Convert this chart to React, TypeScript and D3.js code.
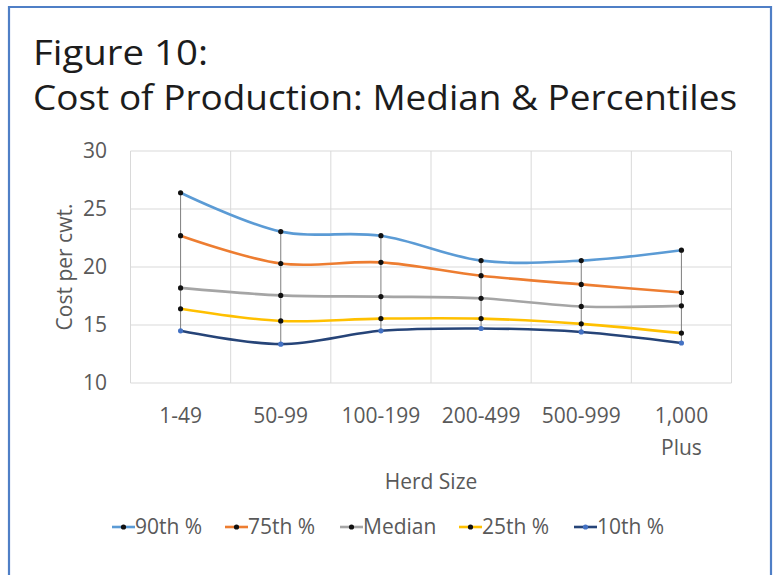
import React from "react";
import * as d3 from "d3";

const categories = ["1-49", "50-99", "100-199", "200-499", "500-999", "1,000 Plus"];
const seriesNames = ["90th %", "75th %", "Median", "25th %", "10th %"];
const p90 = [26.4, 23.05, 22.7, 20.55, 20.55, 21.45];
const p75 = [22.7, 20.3, 20.4, 19.25, 18.5, 17.8];
const median = [18.2, 17.55, 17.45, 17.3, 16.6, 16.65];
const p25 = [16.4, 15.35, 15.55, 15.55, 15.1, 14.3];
const p10 = [14.5, 13.35, 14.5, 14.7, 14.4, 13.45];
const yTicks = [10, 15, 20, 25, 30];

const seriesValues = [p90, p75, median, p25, p10];
const lineColors = ["#5B9BD5", "#ED7D31", "#A5A5A5", "#FFC000", "#264478"];
const markerColors = ["#111", "#111", "#111", "#111", "#4472C4"];

const W = 775;
const H = 575;
const FONT = "'Open Sans', 'Noto Sans', sans-serif";

export default function App() {
  const plotL = 130.5, plotR = 731.5, plotT = 151, plotB = 383;
  const x = d3.scaleBand<string>().domain(categories).range([plotL, plotR]).paddingInner(0).paddingOuter(0);
  const y = d3.scaleLinear().domain([10, 30]).range([plotB, plotT]);
  const cx = (c: string) => (x(c) as number) + x.bandwidth() / 2;
  const line = d3
    .line<number>()
    .x((_, i) => cx(categories[i]))
    .y((v) => y(v))
    .curve(d3.curveCatmullRom.alpha(0.5));

  const boundaries = categories.map((c) => x(c) as number).concat([plotR]);

  const legendX = [112, 225, 340, 459, 574];

  return (
    <div style={{ position: "absolute", left: 0, top: 0 }}>
      <svg width={W} height={H} style={{ display: "block", fontFamily: FONT }}>
        <rect x={0} y={0} width={W} height={H} fill="#fff" />
        {/* frame */}
        <path d={`M9,${H + 5} V7 H771 V${H + 5}`} fill="none" stroke="#4F7FC6" strokeWidth={2.2} />

        {/* title */}
        <text x={33} y={65} fontSize={35} fill="#1c1c1c" textLength={175} lengthAdjust="spacingAndGlyphs">
          Figure 10:
        </text>
        <text x={33} y={110} fontSize={35} fill="#1c1c1c" textLength={704} lengthAdjust="spacingAndGlyphs">
          Cost of Production: Median &amp; Percentiles
        </text>

        {/* gridlines */}
        {yTicks.map((t) => (
          <line key={"h" + t} x1={plotL} x2={plotR} y1={y(t)} y2={y(t)} stroke="#D9D9D9" strokeWidth={1} />
        ))}
        {boundaries.map((b, i) => (
          <line key={"v" + i} x1={b} x2={b} y1={plotT} y2={plotB} stroke="#D9D9D9" strokeWidth={1} />
        ))}

        {/* y tick labels */}
        {yTicks.map((t) => (
          <text key={"yt" + t} x={107} y={y(t)} dy="0.35em" textAnchor="end" fontSize={21} fill="#595959">
            {t}
          </text>
        ))}
        <text
          transform={`translate(${72},${(plotT + plotB) / 2}) rotate(-90)`}
          textAnchor="middle"
          fontSize={21}
          fill="#595959"
        >
          Cost per cwt.
        </text>

        {/* x labels */}
        {categories.map((c) => {
          const parts = c === "1,000 Plus" ? ["1,000", "Plus"] : [c];
          return (
            <text key={"xl" + c} x={cx(c)} y={423} textAnchor="middle" fontSize={21} fill="#595959">
              {parts.map((p, i) => (
                <tspan key={i} x={cx(c)} dy={i === 0 ? 0 : 32}>
                  {p}
                </tspan>
              ))}
            </text>
          );
        })}
        <text x={(plotL + plotR) / 2} y={489} textAnchor="middle" fontSize={21} fill="#595959">
          Herd Size
        </text>

        {/* high-low lines */}
        {categories.map((c, i) => {
          const vals = seriesValues.map((s) => s[i]);
          return (
            <line
              key={"hl" + c}
              x1={cx(c)}
              x2={cx(c)}
              y1={y(d3.max(vals) as number)}
              y2={y(d3.min(vals) as number)}
              stroke="#7F7F7F"
              strokeWidth={1}
            />
          );
        })}

        {/* series */}
        {seriesValues.map((s, k) => (
          <path key={"s" + k} d={line(s) as string} fill="none" stroke={lineColors[k]} strokeWidth={2.6} />
        ))}
        {seriesValues.map((s, k) =>
          s.map((v, i) => (
            <circle key={`m${k}-${i}`} cx={cx(categories[i])} cy={y(v)} r={2.6} fill={markerColors[k]} />
          ))
        )}

        {/* legend */}
        {seriesNames.map((n, k) => (
          <g key={"lg" + k} transform={`translate(${legendX[k]},527)`}>
            <line x1={0} x2={23} y1={0} y2={0} stroke={lineColors[k]} strokeWidth={2.6} />
            <circle cx={11.5} cy={0} r={2.6} fill={markerColors[k]} />
            <text x={23} y={0} dy="0.35em" fontSize={21} fill="#595959">
              {n}
            </text>
          </g>
        ))}
      </svg>
    </div>
  );
}
